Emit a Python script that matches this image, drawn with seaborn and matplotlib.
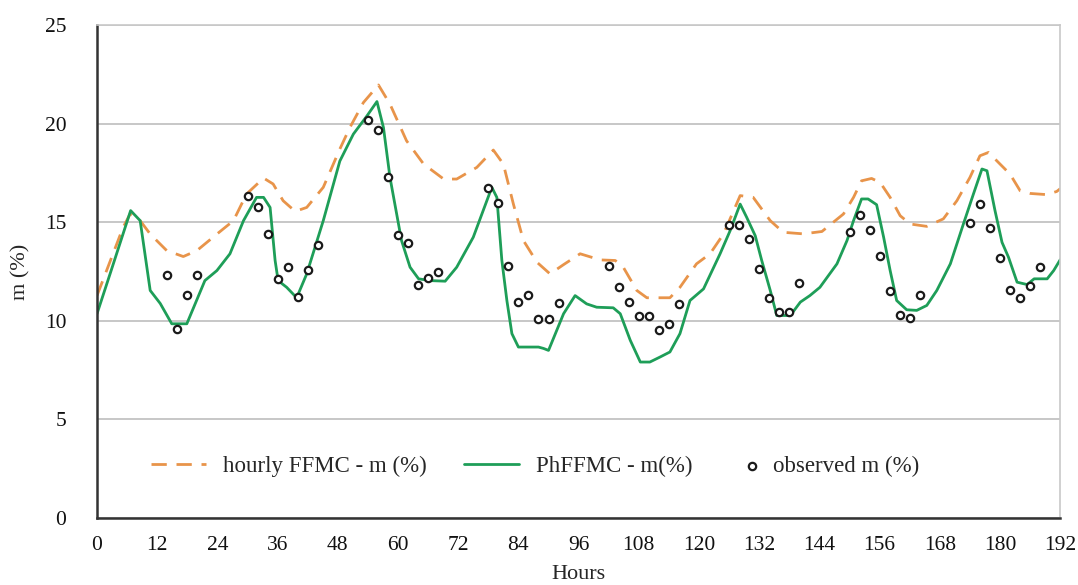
import pandas as pd
import matplotlib.pyplot as plt
import seaborn as sns

# hourly FFMC model (knots)
ffmc_hours = [0, 5.2, 6.6, 8.6, 10.6, 13.9, 17.2, 19.9, 23.9, 27.2, 29.8, 33.2,
              35.1, 37.1, 39.5, 41.8, 45.1, 48.4, 50.4, 53.1, 56.1, 58.4, 61.7,
              65.1, 69.1, 71.7, 75.7, 79.0, 81.0, 83.0, 85.0, 87.7, 90.3, 93.0,
              96.3, 100.3, 103.3, 104.9, 107.6, 109.6, 114.2, 116.2, 119.5,
              122.2, 124.9, 128.2, 130.8, 134.2, 136.8, 140.8, 144.5, 148.8,
              150.8, 152.4, 154.4, 156.1, 158.1, 160.1, 162.1, 165.4, 168.7,
              171.4, 174.0, 176.0, 177.7, 180.0, 182.0, 184.0, 186.0, 189.3,
              191.3, 192]
ffmc_m = [11.28, 14.74, 15.42, 15.08, 14.4, 13.56, 13.26, 13.56, 14.4, 15.08,
          16.43, 17.24, 16.94, 16.09, 15.55, 15.75, 16.77, 18.71, 19.8, 21.07,
          21.96, 20.99, 19.13, 17.95, 17.19, 17.19, 17.78, 18.66, 17.95, 15.92,
          14.07, 12.97, 12.38, 12.85, 13.4, 13.09, 13.06, 12.72, 11.54, 11.17,
          11.17, 11.7, 12.89, 13.4, 14.41, 16.35, 16.26, 15.08, 14.49, 14.41,
          14.53, 15.42, 16.26, 17.1, 17.22, 17.02, 16.26, 15.33, 14.91, 14.79,
          15.17, 16.09, 17.27, 18.37, 18.54, 17.95, 17.44, 16.6, 16.46, 16.4,
          16.56, 16.7]

# PhFFMC model
ph_hours = [0, 2.6, 6.7, 8.6, 10.6, 12.6, 14.9, 17.9, 21.5, 23.9, 26.5, 29.2,
            31.8, 33.2, 34.5, 35.5, 36.1, 37.8, 39.8, 41.8, 45.1, 48.4, 51.1,
            53.8, 55.8, 57.1, 58.4, 60.7, 62.4, 64.1, 66.4, 69.4, 71.7, 75.0,
            78.7, 79.7, 80.7, 81.7, 82.7, 84.0, 88.0, 89.0, 90.0, 93.0, 95.3,
            97.6, 99.6, 102.9, 104.3, 106.3, 108.3, 110.2, 112.2, 114.2, 116.2,
            118.2, 120.9, 124.2, 126.2, 128.2, 129.5, 131.2, 132.5, 134.2,
            135.5, 138.2, 140.2, 142.1, 144.1, 147.5, 149.5, 150.8, 152.4,
            153.7, 155.4, 156.8, 158.1, 159.4, 161.4, 163.4, 165.4, 167.4,
            170.1, 172.7, 174.7, 176.4, 177.4, 179.0, 180.4, 181.7, 183.4,
            185.4, 186.8, 189.4, 190.7, 192]
ph_m = [10.36, 12.38, 15.59, 15.08, 11.54, 10.88, 9.85, 9.85, 12.04, 12.55,
        13.4, 15.08, 16.26, 16.26, 15.75, 13.06, 12.04, 11.7, 11.17, 12.38,
        15.08, 18.1, 19.47, 20.39, 21.12, 19.8, 17.27, 14.07, 12.72, 12.13,
        12.04, 12.01, 12.72, 14.24, 16.77, 16.26, 13.06, 11.03, 9.35, 8.67,
        8.67, 8.6, 8.5, 10.36, 11.28, 10.86, 10.69, 10.66, 10.36, 9.01, 7.91,
        7.91, 8.16, 8.42, 9.35, 11.03, 11.62, 13.4, 14.57, 15.92, 15.25, 14.32,
        13.06, 11.54, 10.27, 10.27, 10.95, 11.28, 11.7, 12.89, 14.07, 15.08,
        16.18, 16.18, 15.89, 14.24, 12.55, 11.03, 10.56, 10.53, 10.78, 11.54,
        12.89, 14.91, 16.43, 17.7, 17.61, 15.59, 13.98, 13.22, 11.96, 11.84,
        12.13, 12.13, 12.55, 13.1]

# observations every 2 hours during the day
obs_hours = [14, 16, 18, 20,
             30, 32, 34, 36, 38, 40, 42, 44,
             54, 56, 58, 60, 62, 64, 66, 68,
             78, 80, 82, 84, 86, 88, 90, 92,
             102, 104, 106, 108, 110, 112, 114, 116,
             126, 128, 130, 132, 134, 136, 138, 140,
             150, 152, 154, 156, 158, 160, 162, 164,
             174, 176, 178, 180, 182, 184, 186, 188]
obs_m = [12.33, 9.6, 11.32, 12.33,
         16.35, 15.79, 14.41, 12.13, 12.75, 11.2, 12.58, 13.87,
         20.18, 19.69, 17.31, 14.37, 13.93, 11.84, 12.18, 12.47,
         16.74, 15.98, 12.8, 10.98, 11.32, 10.1, 10.07, 10.92,
         12.77, 11.71, 10.98, 10.24, 10.27, 9.51, 9.82, 10.86,
         14.88, 14.88, 14.15, 12.64, 11.17, 10.44, 10.44, 11.91,
         14.49, 15.37, 14.63, 13.31, 11.49, 10.31, 10.16, 11.32,
         14.98, 15.92, 14.71, 13.17, 11.57, 11.17, 11.79, 12.72]

x_ticks = list(range(0, 193, 12))
y_ticks = [0, 5, 10, 15, 20, 25]

ORANGE = "#E8944A"
GREEN = "#1E9E58"
FS = 16

sns.set_theme(style="white")
plt.rcParams["font.family"] = ["Liberation Serif", "DejaVu Serif"]

ffmc = pd.DataFrame({"Hours": ffmc_hours, "m": ffmc_m})
ph = pd.DataFrame({"Hours": ph_hours, "m": ph_m})
obs = pd.DataFrame({"Hours": obs_hours, "m": obs_m})

fig = plt.figure(figsize=(10.78, 5.85), dpi=100)
ax = fig.add_axes([0.09, 0.1145, 0.8935, 0.8427])

sns.lineplot(data=ffmc, x="Hours", y="m", ax=ax, color=ORANGE, lw=2.0,
             label="hourly FFMC - m (%)")
ax.lines[-1].set_dashes((5.5, 3.5))
sns.lineplot(data=ph, x="Hours", y="m", ax=ax, color=GREEN, lw=2.0,
             label="PhFFMC - m(%)")
sns.scatterplot(data=obs, x="Hours", y="m", ax=ax, s=28, facecolor="white",
                edgecolor="#1a1a1a", linewidth=1.6, label="observed m (%)",
                zorder=5)

ax.set_xlim(0, 192)
ax.set_ylim(0, 25)
ax.set_xticks(x_ticks)
ax.set_yticks(y_ticks)
ax.tick_params(axis="both", labelsize=15.5, length=0, colors="#111111")
ax.tick_params(axis="x", pad=13)
ax.tick_params(axis="y", pad=22)
ax.yaxis.grid(True, color="#bdbdbd", lw=1.2)
ax.xaxis.grid(False)

for side in ["top", "right"]:
    ax.spines[side].set_color("#c8c8c8")
    ax.spines[side].set_linewidth(1.2)
for side in ["left", "bottom"]:
    ax.spines[side].set_color("#333333")
    ax.spines[side].set_linewidth(1.8)

ax.set_xlabel("Hours", fontsize=FS, labelpad=7)
ax.set_ylabel("m (%)", fontsize=FS, labelpad=10)

# two legends: the lines, then the observed points
handles, labels = ax.get_legend_handles_labels()
leg1 = ax.legend(handles[:2], labels[:2], loc="center left",
                 bbox_to_anchor=(0.056, 0.1055), ncol=2, frameon=False,
                 fontsize=16.5, borderpad=0, borderaxespad=0,
                 columnspacing=1.6, handlelength=2.4, handletextpad=0.75)
ax.add_artist(leg1)
ax.legend(handles[2:], labels[2:], loc="center left",
          bbox_to_anchor=(0.673, 0.1055), frameon=False, fontsize=16.5,
          borderpad=0, borderaxespad=0, handlelength=0.6, handletextpad=0.6)

plt.savefig("out.png", dpi=100)
